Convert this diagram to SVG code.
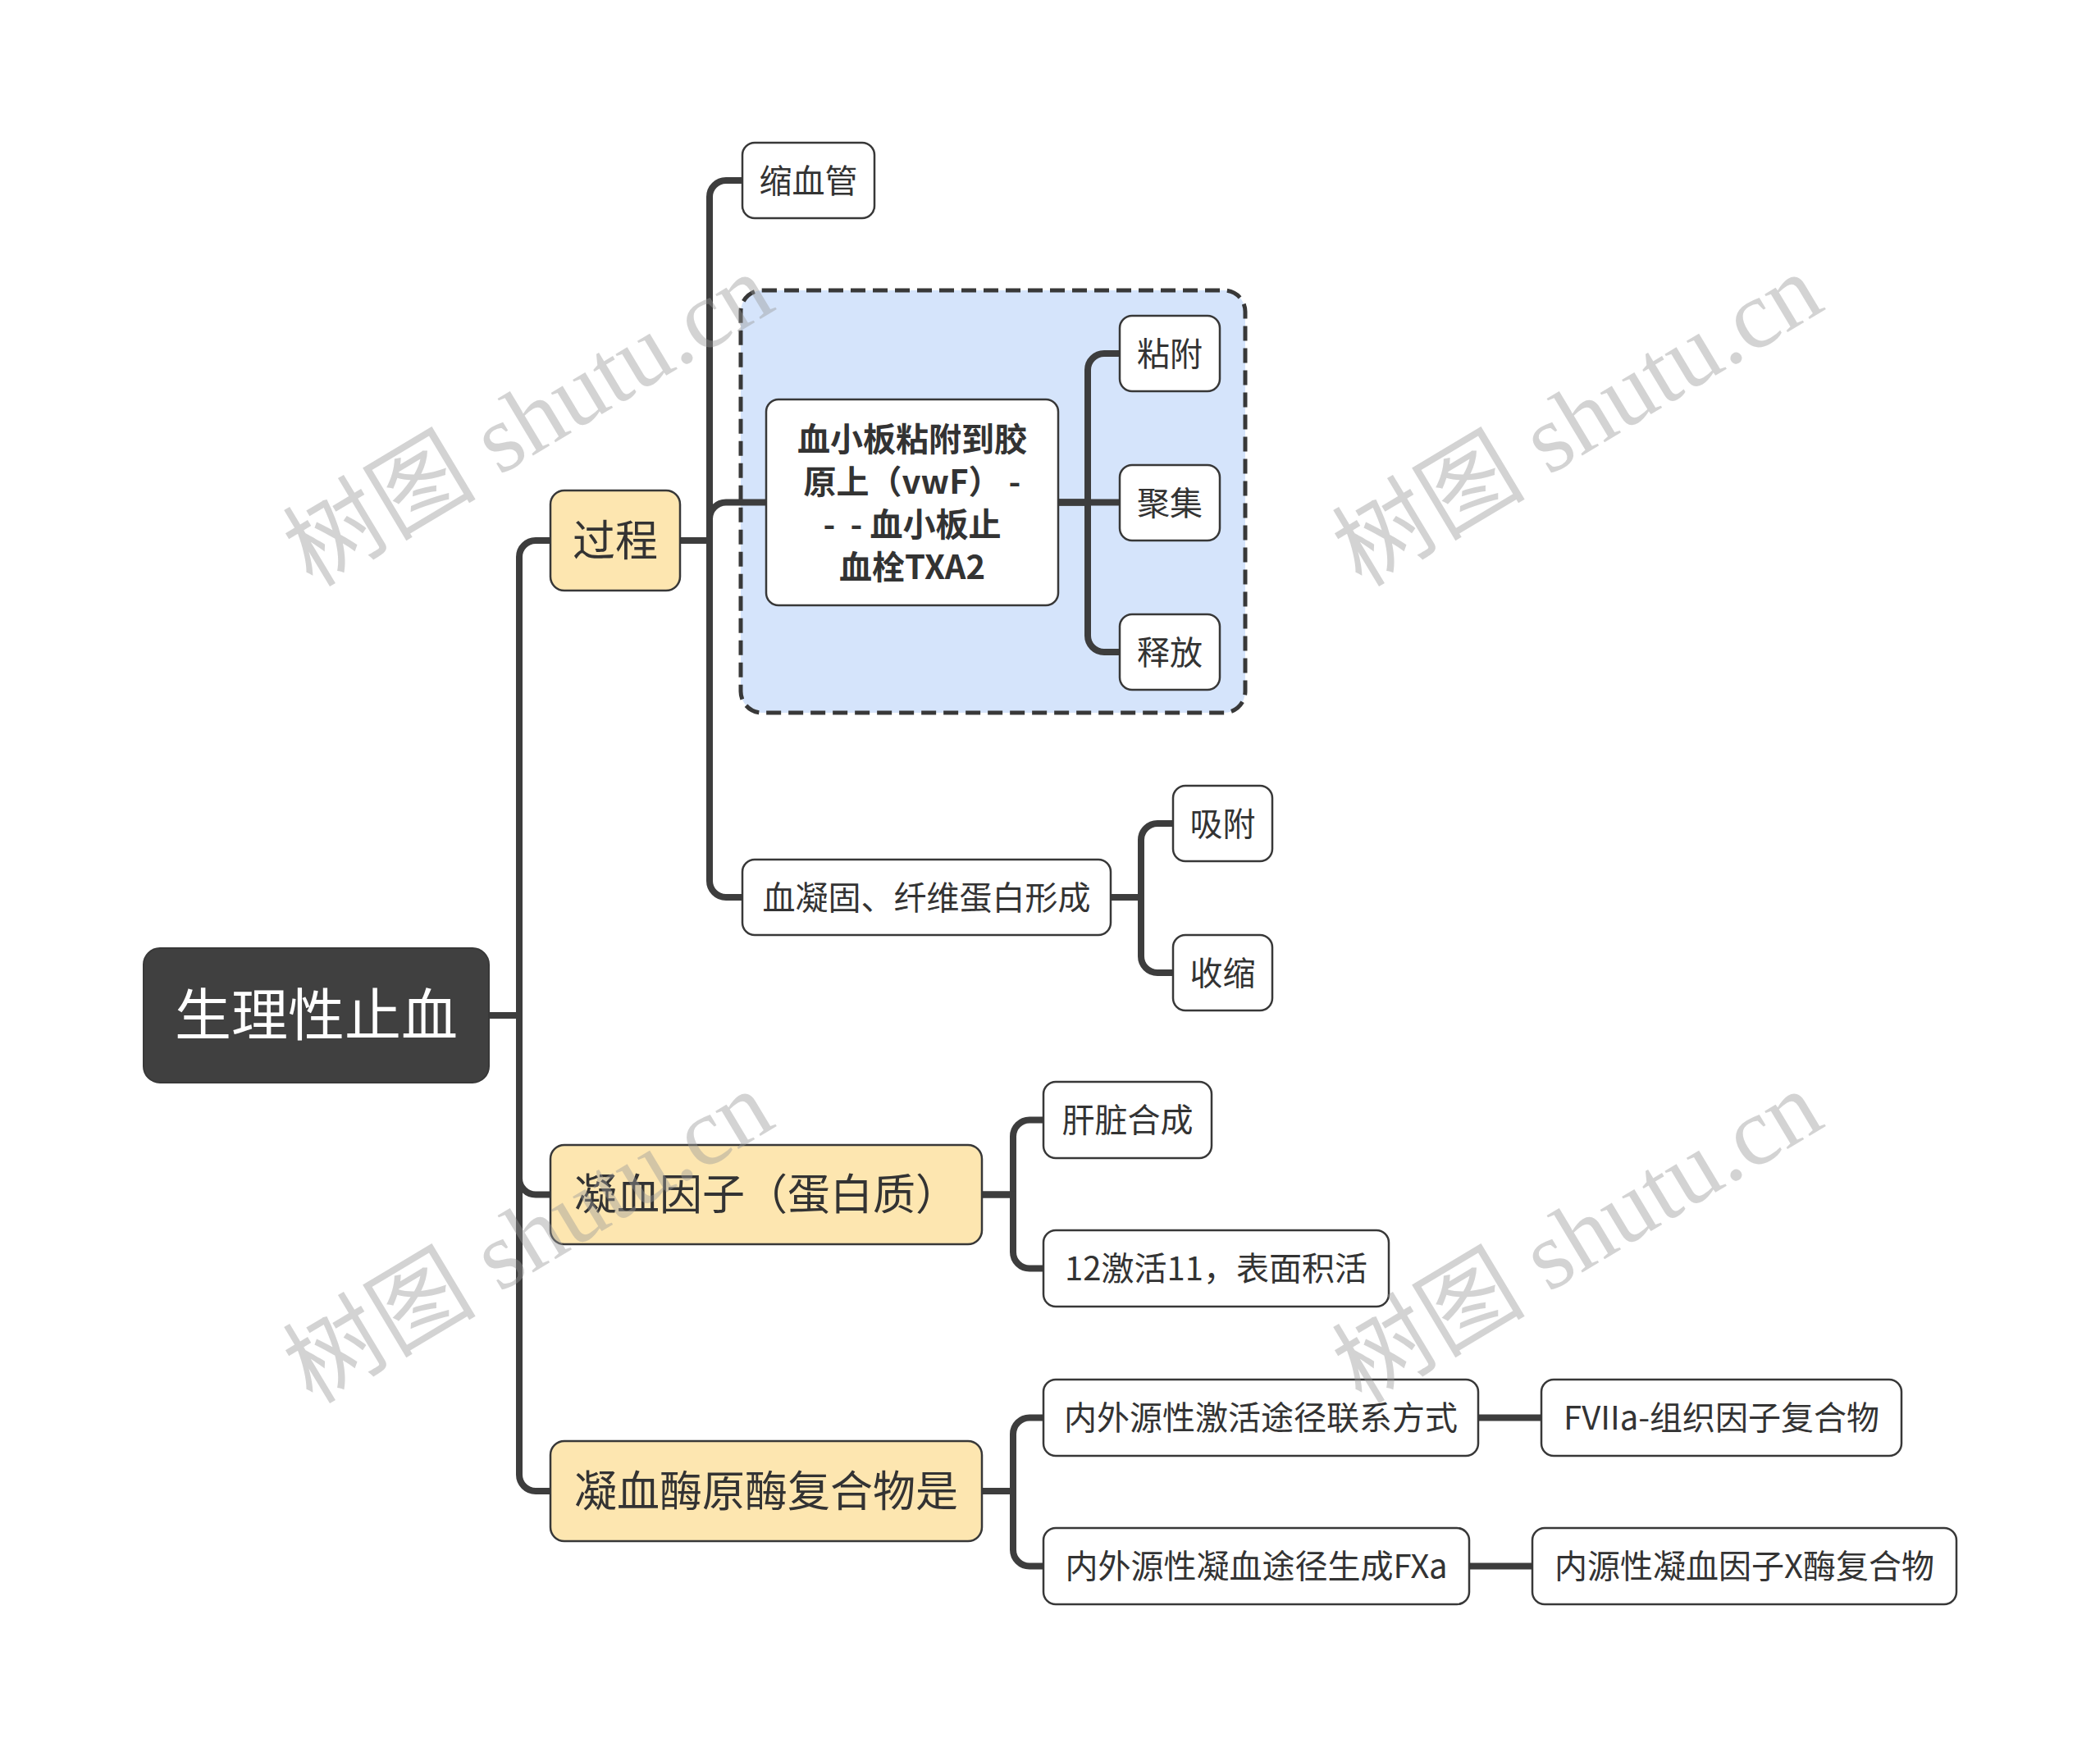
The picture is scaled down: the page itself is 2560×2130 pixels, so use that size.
<svg xmlns="http://www.w3.org/2000/svg" width="2560" height="2130" viewBox="0 0 2560 2130">
<style>
.t{font-family:"Noto Sans CJK SC","Open Sans",sans-serif;fill:#333333;text-anchor:middle}
.b2{fill:#ffffff;stroke:#383838;stroke-width:2.5}
.b1{fill:#fde6b0;stroke:#383838;stroke-width:2.5}
.f40{font-size:40px}
.f52{font-size:52px}
.c path{fill:none;stroke:#3d3d3d;stroke-width:8}
.wm{font-family:"Liberation Serif","Noto Sans CJK SC",serif;font-size:118px;fill:#999999;opacity:0.42;text-anchor:middle}
</style>
<rect x="0" y="0" width="2560" height="2130" fill="#ffffff"/>

<g id="boundary">
<rect x="903" y="354" width="615" height="515" rx="26" fill="#d5e4fb" stroke="#383838" stroke-width="5" stroke-dasharray="18 9"/>
</g>

<g id="connectors" class="c">
<path d="M596 1238 H633 V679 A20 20 0 0 1 653 659 H671"/>
<path d="M596 1238 H633 V1436.5 A20 20 0 0 0 653 1456.5 H671"/>
<path d="M596 1238 H633 V1798 A20 20 0 0 0 653 1818 H671"/>
<path d="M829 659 H865 V240 A20 20 0 0 1 885 220 H905"/>
<path d="M829 659 H865 V632.5 A20 20 0 0 1 885 612.5 H934"/>
<path d="M829 659 H865 V1074 A20 20 0 0 0 885 1094 H905"/>
<path d="M1290 612.5 H1326 V451 A20 20 0 0 1 1346 431 H1365"/>
<path d="M1290 612.5 H1365"/>
<path d="M1290 612.5 H1326 V775 A20 20 0 0 0 1346 795 H1365"/>
<path d="M1354 1094 H1391 V1024 A20 20 0 0 1 1411 1004 H1430"/>
<path d="M1354 1094 H1391 V1166 A20 20 0 0 0 1411 1186 H1430"/>
<path d="M1197 1456.5 H1235 V1385.5 A20 20 0 0 1 1255 1365.5 H1272"/>
<path d="M1197 1456.5 H1235 V1526.5 A20 20 0 0 0 1255 1546.5 H1272"/>
<path d="M1197 1818 H1235 V1748.5 A20 20 0 0 1 1255 1728.5 H1272"/>
<path d="M1197 1818 H1235 V1889.5 A20 20 0 0 0 1255 1909.5 H1272"/>
<path d="M1802 1728.5 H1879"/>
<path d="M1791 1909.5 H1868"/>
</g>

<g id="root">
<rect x="175" y="1156" width="421" height="164" rx="20" fill="#404040" stroke="#383838" stroke-width="2"/>
<text class="t" x="385.5" y="1263" style="font-size:69px;fill:#ffffff">生理性止血</text>
</g>

<g id="n-guocheng">
<rect class="b1" x="671" y="598" width="158" height="122" rx="17"/>
<text class="t f52" x="750" y="678">过程</text>
</g>
<g id="n-ningxueyinzi">
<rect class="b1" x="671" y="1396" width="526" height="121" rx="17"/>
<text class="t f52" x="934" y="1475">凝血因子（蛋白质）</text>
</g>
<g id="n-ningxuemei">
<rect class="b1" x="671" y="1757" width="526" height="122" rx="17"/>
<text class="t f52" x="934" y="1837">凝血酶原酶复合物是</text>
</g>

<g id="n-suoxueguan">
<rect class="b2" x="905" y="174" width="161" height="92" rx="15"/>
<text class="t f40" x="985.5" y="234.5">缩血管</text>
</g>
<g id="n-xiaoban">
<rect class="b2" x="934" y="487" width="356" height="251" rx="15"/>
<text class="t f40" style="font-weight:bold" xml:space="preserve"><tspan x="1112" y="550">血小板粘附到胶</tspan><tspan x="1112" y="602">原上（vwF） -</tspan><tspan x="1112" y="654">-  - 血小板止</tspan><tspan x="1112" y="706">血栓TXA2</tspan></text>
</g>
<g id="n-zhanfu">
<rect class="b2" x="1365" y="385" width="122" height="92" rx="15"/>
<text class="t f40" x="1426" y="445.5">粘附</text>
</g>
<g id="n-juji">
<rect class="b2" x="1365" y="567" width="122" height="92" rx="15"/>
<text class="t f40" x="1426" y="627.5">聚集</text>
</g>
<g id="n-shifang">
<rect class="b2" x="1365" y="749" width="122" height="92" rx="15"/>
<text class="t f40" x="1426" y="809.5">释放</text>
</g>
<g id="n-xueninggu">
<rect class="b2" x="905" y="1048" width="449" height="92" rx="15"/>
<text class="t f40" x="1129.5" y="1108.5">血凝固、纤维蛋白形成</text>
</g>
<g id="n-xifu">
<rect class="b2" x="1430" y="958" width="121" height="92" rx="15"/>
<text class="t f40" x="1490.5" y="1018.5">吸附</text>
</g>
<g id="n-shousuo">
<rect class="b2" x="1430" y="1140" width="121" height="92" rx="15"/>
<text class="t f40" x="1490.5" y="1200.5">收缩</text>
</g>
<g id="n-ganzang">
<rect class="b2" x="1272" y="1319" width="205" height="93" rx="15"/>
<text class="t f40" x="1374.5" y="1380">肝脏合成</text>
</g>
<g id="n-12jihuo">
<rect class="b2" x="1272" y="1500" width="421" height="93" rx="15"/>
<text class="t f40" x="1482.5" y="1561">12激活11，表面积活</text>
</g>
<g id="n-lianxi">
<rect class="b2" x="1272" y="1682" width="530" height="93" rx="15"/>
<text class="t f40" x="1537" y="1743">内外源性激活途径联系方式</text>
</g>
<g id="n-fviia">
<rect class="b2" x="1879" y="1682" width="439" height="93" rx="15"/>
<text class="t f40" x="2098.5" y="1743">FVIIa-组织因子复合物</text>
</g>
<g id="n-fxa">
<rect class="b2" x="1272" y="1863" width="519" height="93" rx="15"/>
<text class="t f40" x="1531.5" y="1924">内外源性凝血途径生成FXa</text>
</g>
<g id="n-xmei">
<rect class="b2" x="1868" y="1863" width="517" height="93" rx="15"/>
<text class="t f40" x="2126.5" y="1924">内源性凝血因子X酶复合物</text>
</g>

<g id="watermarks">
<text class="wm" transform="translate(645,514) rotate(-31)" x="0" y="38">树图 shutu.cn</text>
<text class="wm" transform="translate(1924,514) rotate(-31)" x="0" y="38">树图 shutu.cn</text>
<text class="wm" transform="translate(645,1510) rotate(-31)" x="0" y="38">树图 shutu.cn</text>
<text class="wm" transform="translate(1924,1510) rotate(-31)" x="0" y="38">树图 shutu.cn</text>
</g>
</svg>
